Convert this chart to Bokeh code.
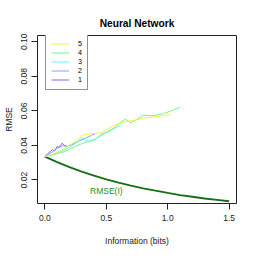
from bokeh.plotting import figure
from bokeh.models import (Range1d, FixedTicker, Legend, LegendItem, Label)
from bokeh.embed import file_html
from bokeh.resources import INLINE

# ---------------- data ----------------
title_text = "Neural Network"
x_label = "Information (bits)"
y_label = "RMSE"
x_ticks = [0.0, 0.5, 1.0, 1.5]
x_tick_labels = ["0.0", "0.5", "1.0", "1.5"]
y_ticks = [0.02, 0.04, 0.06, 0.08, 0.10]
y_tick_labels = ["0.02", "0.04", "0.06", "0.08", "0.10"]

series_names = ["1", "2", "3", "4", "5"]
series_colors = ["#8a5cff", "#85a3ff", "#6ff0ff", "#70f790", "#f2f23a"]

s1_x = [0, 0.02, 0.04, 0.06, 0.08, 0.10, 0.12, 0.14, 0.16, 0.18]
s1_y = [0.0335, 0.0350, 0.0362, 0.0375, 0.0368, 0.0394, 0.0388, 0.0413, 0.0400, 0.0394]

s2_x = [0, 0.03, 0.06, 0.09, 0.12, 0.15, 0.18, 0.22, 0.27, 0.33, 0.38, 0.41]
s2_y = [0.0335, 0.0348, 0.0362, 0.0380, 0.0392, 0.0398, 0.0394, 0.0404, 0.0423, 0.0442, 0.0458, 0.0468]

s3_x = [0, 0.05, 0.10, 0.15, 0.20, 0.25, 0.30, 0.33, 0.36, 0.41, 0.46, 0.52, 0.57, 0.62]
s3_y = [0.0335, 0.0345, 0.0357, 0.0370, 0.0388, 0.0412, 0.0442, 0.0430, 0.0423, 0.0433, 0.0466, 0.0480, 0.0500, 0.0515]

s4_x = [0, 0.05, 0.10, 0.15, 0.20, 0.25, 0.30, 0.35, 0.40, 0.48, 0.56, 0.654, 0.70, 0.80, 0.88, 0.965, 1.03, 1.10]
s4_y = [0.0335, 0.0343, 0.0352, 0.0362, 0.0378, 0.0395, 0.0410, 0.0422, 0.0433, 0.0468, 0.0500, 0.0552, 0.0529, 0.0574, 0.0572, 0.0584, 0.0600, 0.0620]

s5_x = [0, 0.05, 0.10, 0.15, 0.20, 0.25, 0.32, 0.38, 0.45, 0.50, 0.56, 0.62, 0.67, 0.75, 0.80, 0.90, 1.02]
s5_y = [0.0335, 0.0345, 0.0360, 0.0378, 0.0400, 0.0425, 0.0462, 0.0468, 0.0472, 0.0490, 0.0515, 0.0530, 0.0539, 0.0548, 0.0558, 0.0566, 0.0578]

rmse_x = [0.0, 0.1, 0.2, 0.3, 0.4, 0.5, 0.6, 0.7, 0.8, 0.9, 1.0, 1.1, 1.2, 1.3, 1.4, 1.5]
rmse_y = [0.0335, 0.0303, 0.0274, 0.0248, 0.0225, 0.0204, 0.0185, 0.0168, 0.0152, 0.0138, 0.0125, 0.0113, 0.0103, 0.0093, 0.0085, 0.0077]
rmse_label = "RMSE(I)"

series_x = [s1_x, s2_x, s3_x, s4_x, s5_x]
series_y = [s1_y, s2_y, s3_y, s4_y, s5_y]

# ---------------- figure ----------------
FONT = "Liberation Sans"
p = figure(width=250, height=250, output_backend="svg", toolbar_location=None,
           x_range=Range1d(-0.06, 1.56), y_range=Range1d(0.0064, 0.1036),
           min_border_left=35, min_border_right=14, min_border_top=35, min_border_bottom=47)
p.background_fill_color = "white"
p.border_fill_color = "white"
p.outline_line_color = "#222222"
p.outline_line_width = 1
p.grid.visible = False

p.title.text = title_text
p.title.align = "center"
p.title.text_font = FONT
p.title.text_font_size = "10.2px"
p.title.text_font_style = "bold"
p.title.text_color = "black"
p.title.standoff = 14

for ax in (p.xaxis[0], p.yaxis[0]):
    ax.axis_line_color = None
    ax.major_tick_in = 0
    ax.major_tick_out = 6
    ax.major_tick_line_color = "#222222"
    ax.minor_tick_line_color = None
    ax.major_label_text_font = FONT
    ax.major_label_text_font_size = "8.5px"
    ax.major_label_text_color = "#222222"
    ax.axis_label_text_font = FONT
    ax.axis_label_text_font_size = "8.5px"
    ax.axis_label_text_font_style = "normal"
    ax.axis_label_text_color = "#222222"

p.xaxis[0].ticker = FixedTicker(ticks=x_ticks)
p.xaxis[0].major_label_overrides = dict(zip(x_ticks, x_tick_labels))
p.xaxis[0].major_label_standoff = 5
p.xaxis[0].axis_label = x_label
p.xaxis[0].axis_label_standoff = 12

p.yaxis[0].ticker = FixedTicker(ticks=y_ticks)
p.yaxis[0].major_label_overrides = dict(zip(y_ticks, y_tick_labels))
p.yaxis[0].major_label_orientation = "vertical"
p.yaxis[0].major_label_standoff = 4
p.yaxis[0].axis_label = y_label
p.yaxis[0].axis_label_standoff = 5

# RMSE(I) curve
p.line(rmse_x, rmse_y, line_color="#137013", line_width=1.8)
p.add_layout(Label(x=0.5, y=0.0134, text=rmse_label, text_align="center",
                   text_baseline="middle", text_color="#2a8a2a",
                   text_font=FONT, text_font_size="8.5px"))

renderers = {}
for name, xs, ys, col in zip(series_names, series_x, series_y, series_colors):
    renderers[name] = p.line(xs, ys, line_color=col, line_width=1)

items = [LegendItem(label=n, renderers=[renderers[n]]) for n in reversed(series_names)]
legend = Legend(items=items, location=(8, 113), orientation="vertical",
                padding=5, spacing=0, margin=0,
                glyph_width=18, glyph_height=7, label_height=7, label_width=4,
                label_standoff=9,
                label_text_font=FONT, label_text_font_size="7.2px",
                label_text_color="black",
                border_line_color="#222222", border_line_width=1,
                background_fill_color="white", background_fill_alpha=1)
p.add_layout(legend)

open("out.html", "w").write(file_html(p, INLINE))
